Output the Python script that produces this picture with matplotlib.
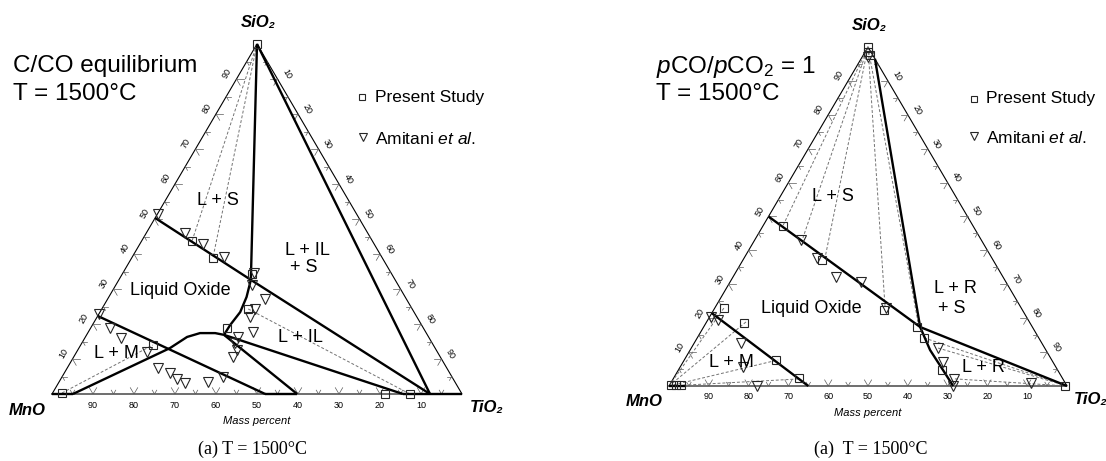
import numpy as np
import matplotlib
matplotlib.use("Agg")
import matplotlib.pyplot as plt

plt.rcParams["font.family"] = ["Liberation Sans", "DejaVu Sans"]
plt.rcParams["mathtext.fontset"] = "custom"
plt.rcParams["mathtext.rm"] = "Liberation Sans"
plt.rcParams["mathtext.it"] = "Liberation Sans:italic"
plt.rcParams["mathtext.bf"] = "Liberation Sans:bold"

H3 = np.sqrt(3) / 2
FW, FH = 1106, 461

# all compositions are (SiO2, TiO2) in mass percent, MnO is the rest

# --- left: C/CO equilibrium ---
co_ls_line = [(50.3, 0), (32.5, 32.4), (0, 92.2)]
co_s_il_line = [(100, 0), (0, 92.2)]
co_s_liq = [(100, 0), (32.6, 32.2), (27.7, 33.6), (23.4, 34.2), (19.7, 33.6), (16.9, 33.5)]
co_m_liq = [(0, 5.1), (13.1, 22.2), (16.3, 24.8), (17.4, 27.4), (17.4, 31.1), (16.9, 33.5)]
co_lm_line = [(22.3, 0), (0, 52)]
co_low_1 = [(16.9, 33.5), (0, 59.8)]
co_low_2 = [(16.9, 33.5), (0, 85.6)]
co_base_bold = [[(0, 0), (0, 5.1)], [(0, 52), (0, 59.8)], [(0, 85.6), (0, 100)]]
co_ties = [[(100, 0), (43.7, 12.3)], [(100, 0), (38.9, 19.8)],
           [(24.3, 35.7), (0, 87.3)], [(0.3, 2.3), (14, 17.6)]]
co_sq = [(100, 0), (0.3, 2.3), (14, 17.6), (43.7, 12.3), (38.9, 19.8), (24.3, 35.7),
         (18.9, 33.2), (0, 81.2), (0, 87.3), (34.3, 31.6)]
co_tri = [(51.5, 0), (46, 9.4), (42.9, 15.4), (39.1, 22.4), (34.6, 32), (31.1, 33.2),
          (27.1, 38.4), (24.3, 37.4), (22, 37.3), (17.7, 40.2), (16.3, 37.2), (14.6, 37.3),
          (12.6, 38.8), (10.6, 38.8), (23, 0), (18.9, 4.7), (16, 8.8), (12, 17.2),
          (7.4, 22.2), (6, 25.8), (4.3, 28.3), (3.1, 30.9), (3.4, 36.3), (4.9, 39.3)]

# --- right: pCO/pCO2 = 1 ---
co2_main = [(50, 0), (17.4, 54.4), (0, 100)]
co2_steep = [(96.5, 3.5), (17.4, 54.4), (10.6, 60.3), (4.7, 66.5), (0, 71.4)]
co2_lm_line = [(21.5, 0), (0, 35)]
co2_base_bold = [[(0, 0), (0, 4)]]
co2_ties = [[(100, 0), (47.2, 5.0)], [(100, 0), (43.7, 11.8)], [(100, 0), (37.8, 20.3)],
            [(100, 0), (23, 42.8)], [(100, 0), (18.9, 53.1)],
            [(14.2, 57), (0, 100)], [(11.2, 62), (0, 100)], [(2.1, 70.8), (0, 100)],
            [(0, 0), (23, 2.3)], [(0, 0), (18.9, 9.9)], [(0, 0), (7.7, 23.6)], [(0, 0), (2.1, 31.9)]]
co2_sq = [(100, 0), (98.5, 0.8), (97.5, 1.8), (0.4, 0.3), (0.4, 1.5), (0.4, 2.7), (0, 99.6),
          (47.2, 5.0), (37.2, 19.8), (22.4, 42.8), (17.4, 53.6), (14.2, 57), (4.7, 66.3),
          (23, 2.3), (18.6, 9.5), (7.7, 23.1), (2.4, 31.5)]
co2_tri = [(43.1, 11.6), (37.8, 18.3), (32.2, 25.9), (30.7, 32.9), (23, 43), (11.2, 62),
           (7.1, 65.3), (2.1, 70.6), (0, 71.4), (20.4, 0.4), (19.5, 2.6), (12.7, 11.7),
           (5.6, 15.8), (0, 22.1), (1, 90.5), (97, 1.5)]

ticks = list(range(5, 100, 5))


def xy(pts):
    p = np.asarray(pts, float)
    return p[:, 1] + p[:, 0] / 2, p[:, 0] * H3


def frame(ax):
    ax.plot([0, 100, 50, 0], [0, 0, 100 * H3, 0], color="black", lw=0.8, clip_on=False)
    for t in ticks:
        big = t % 10 == 0
        L = 1.8 if big else 1.1
        # base: MnO %
        px, py = 100 - t, 0
        for dx, dy in [(0.5, H3), (-0.5, H3)]:
            ax.plot([px, px + L * dx], [py, py + L * dy], color="0.35", lw=0.5)
        # left edge: SiO2 %
        lx, ly = t / 2, t * H3
        for dx, dy in [(1, 0), (0.5, -H3)]:
            ax.plot([lx, lx + L * dx], [ly, ly + L * dy], color="0.35", lw=0.5)
        # right edge: TiO2 %
        rx, ry = 50 + t / 2, (100 - t) * H3
        for dx, dy in [(-1, 0), (-0.5, -H3)]:
            ax.plot([rx, rx + L * dx], [ry, ry + L * dy], color="0.35", lw=0.5)
        if big:
            ax.text(px, -2.8, str(t), fontsize=6.5, ha="center", va="center")
            ax.text(lx - 2.6 * H3, ly + 2.6 * 0.5, str(t), fontsize=6.5, rotation=60,
                    ha="center", va="center")
            ax.text(rx + 2.6 * H3, ry + 2.6 * 0.5, str(t), fontsize=6.5, rotation=-60,
                    ha="center", va="center")


def panel(rect, bold, base_bold, ties, sq, tri, labels, tio2_x):
    x0, y0, w, h = rect
    ax = fig.add_axes([x0 / FW, (FH - y0) / FH, w / FW, h / FH])
    ax.set_xlim(0, 100)
    ax.set_ylim(0, 100 * H3)
    ax.axis("off")
    frame(ax)
    for seg in ties:
        ax.plot(*xy(seg), color="0.45", lw=0.7, ls=(0, (3, 2)), clip_on=False)
    for seg in bold + base_bold:
        ax.plot(*xy(seg), color="black", lw=1.7, clip_on=False, solid_capstyle="butt")
    ax.plot(*xy(sq), ls="none", marker="s", ms=5.5, mfc="none", mec="0.15", mew=0.8, clip_on=False)
    ax.plot(*xy(tri), ls="none", marker="v", ms=6.5, mfc="none", mec="0.15", mew=0.8, clip_on=False)
    for txt, (tx, ty) in labels:
        ax.text(tx, ty, txt, fontsize=13, ha="center", va="center")
    ax.text(50.3, 92, "SiO₂", fontsize=12, fontweight="bold", style="italic", ha="center", va="center")
    ax.text(-1.5, -4.0, "MnO", fontsize=12, fontweight="bold", style="italic", ha="right", va="center")
    ax.text(tio2_x, -3.4, "TiO₂", fontsize=12, fontweight="bold", style="italic", ha="left", va="center")
    ax.text(50, -6.8, "Mass percent", fontsize=8, style="italic", ha="center", va="center")
    return ax


fig = plt.figure(figsize=(FW / 100, FH / 100), dpi=100)

panel((52, 394, 410, 350),
      [co_ls_line, co_s_il_line, co_s_liq, co_m_liq, co_lm_line, co_low_1, co_low_2],
      co_base_bold, co_ties, co_sq, co_tri,
      [("L + S", (40.5, 48.0)), ("L + IL", (62.2, 35.6)), ("+ S", (61.5, 31.2)),
       ("Liquid Oxide", (31.2, 25.5)), ("L + IL", (60.7, 14.1)), ("L + M", (15.6, 10.1))], 102)

panel((669, 386, 398, 339),
      [co2_main, co2_steep, co2_lm_line], co2_base_bold, co2_ties, co2_sq, co2_tri,
      [("L + S", (41.2, 48.3)), ("L + R", (71.9, 24.8)), ("+ S", (71.1, 19.9)),
       ("Liquid Oxide", (35.7, 19.7)), ("L + M", (15.6, 5.9)), ("L + R", (78.9, 4.6))], 101.8)


def ftext(x, y, s, **kw):
    fig.text(x / FW, 1 - y / FH, s, **kw)


ftext(13, 72, "C/CO equilibrium", fontsize=17.5, va="baseline")
ftext(13, 100, "T = 1500°C", fontsize=17.5, va="baseline")
ftext(656, 73, r"$\it{p}$CO/$\it{p}$CO$_2$ = 1", fontsize=17.5, va="baseline")
ftext(656, 100, "T = 1500°C", fontsize=17.5, va="baseline")

for (mx, my, tx, ty) in [(362, 97, 375, 97), (974, 99, 986, 99)]:
    fig.lines.append(plt.Line2D([mx / FW], [1 - my / FH], transform=fig.transFigure, marker="s",
                                ms=5, mfc="none", mec="0.15", mew=0.8))
    ftext(tx, ty, "Present Study", fontsize=12.5, va="center")
for (mx, my, tx, ty) in [(363, 137, 375, 139), (974, 136, 986, 138)]:
    fig.lines.append(plt.Line2D([mx / FW], [1 - my / FH], transform=fig.transFigure, marker="v",
                                ms=6, mfc="none", mec="0.15", mew=0.8))
    ftext(tx, ty, r"Amitani $\it{et\ al.}$", fontsize=12.5, va="center")

ftext(252, 449, "(a) T = 1500°C", fontsize=13, family="Liberation Serif", ha="center", va="center")
ftext(871, 449, "(a)  T = 1500°C", fontsize=13, family="Liberation Serif", ha="center", va="center")

fig.savefig("out.png", dpi=100)
